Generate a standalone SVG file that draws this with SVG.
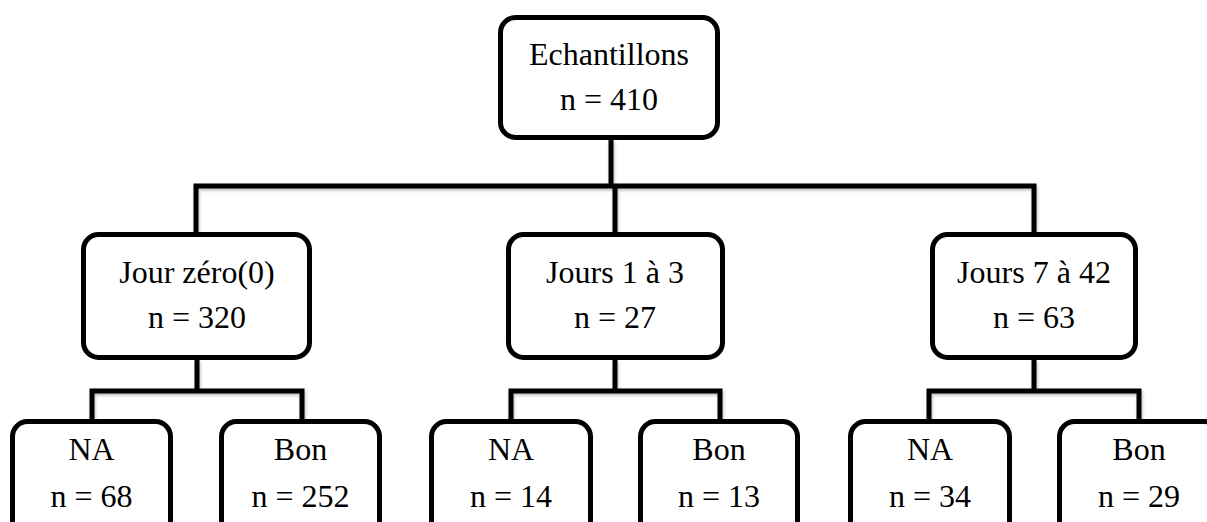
<svg xmlns="http://www.w3.org/2000/svg" width="1207" height="522" viewBox="0 0 1207 522">
<style>
.box{fill:#fff;stroke:#000;stroke-width:5}
.ln{fill:none;stroke:#000;stroke-width:5;stroke-linejoin:miter;stroke-linecap:butt}
text{font-family:"Liberation Serif","Times New Roman",serif;font-size:32px;fill:#000;text-anchor:middle}
</style>
<defs>
<filter id="sh" x="-5%" y="-5%" width="110%" height="110%">
<feDropShadow dx="1" dy="2" stdDeviation="1.5" flood-color="#000" flood-opacity="0.25"/>
</filter>
</defs>
<rect width="1207" height="522" fill="#fff"/>
<g id="connectors" filter="url(#sh)">
<path class="ln" d="M611 140V186M196 232V186H1034V232M615 186V232"/>
<path class="ln" d="M197 360V391M92 419V391H302V419"/>
<path class="ln" d="M615 360V391M511 419V391H720V419"/>
<path class="ln" d="M1034 360V391M929 419V391H1139V419"/>
</g>
<g id="n-echantillons">
<rect class="box" x="500.5" y="17.5" width="217" height="120" rx="15"/>
<text x="609" y="65">Echantillons</text>
<text x="609" y="110">n = 410</text>
</g>
<g id="n-jour0">
<rect class="box" x="83.5" y="234.5" width="226" height="123" rx="15"/>
<text x="197" y="283">Jour zéro(0)</text>
<text x="197" y="328">n = 320</text>
</g>
<g id="n-jours13">
<rect class="box" x="508.5" y="234.5" width="214" height="123" rx="15"/>
<text x="615" y="283">Jours 1 à 3</text>
<text x="615" y="328">n = 27</text>
</g>
<g id="n-jours742">
<rect class="box" x="932.5" y="234.5" width="203" height="123" rx="15"/>
<text x="1034" y="283">Jours 7 à 42</text>
<text x="1034" y="328">n = 63</text>
</g>
<g id="n-na1">
<rect class="box" x="12.5" y="421.5" width="158" height="120" rx="15"/>
<text x="91.5" y="460">NA</text>
<text x="91.5" y="507">n = 68</text>
</g>
<g id="n-bon1">
<rect class="box" x="221.5" y="421.5" width="158" height="120" rx="15"/>
<text x="300.5" y="460">Bon</text>
<text x="300.5" y="507">n = 252</text>
</g>
<g id="n-na2">
<rect class="box" x="431.5" y="421.5" width="159" height="120" rx="15"/>
<text x="511" y="460">NA</text>
<text x="511" y="507">n = 14</text>
</g>
<g id="n-bon2">
<rect class="box" x="640.5" y="421.5" width="157" height="120" rx="15"/>
<text x="719" y="460">Bon</text>
<text x="719" y="507">n = 13</text>
</g>
<g id="n-na3">
<rect class="box" x="850.5" y="421.5" width="159" height="120" rx="15"/>
<text x="930" y="460">NA</text>
<text x="930" y="507">n = 34</text>
</g>
<g id="n-bon3">
<rect class="box" x="1059.5" y="421.5" width="160" height="120" rx="15"/>
<text x="1139" y="460">Bon</text>
<text x="1139" y="507">n = 29</text>
</g>
</svg>
